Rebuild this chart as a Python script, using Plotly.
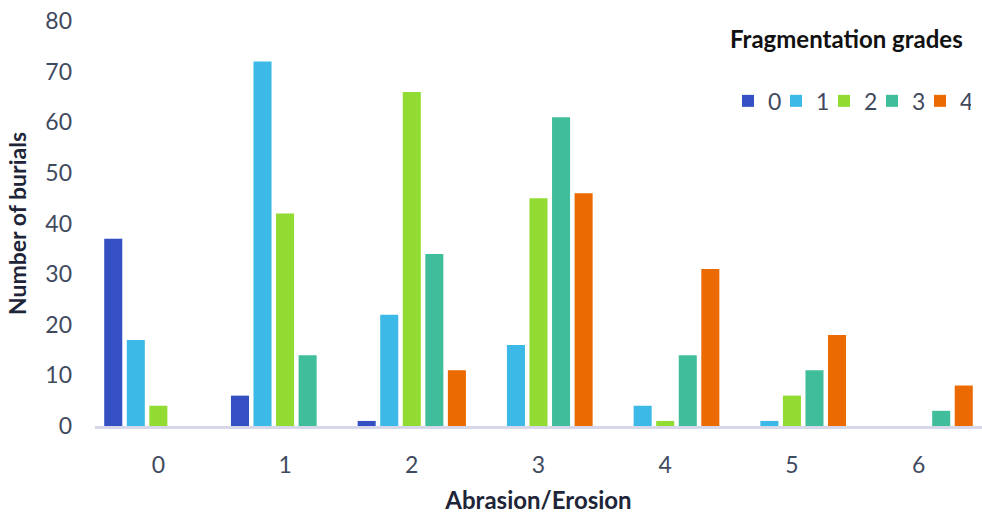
import plotly.graph_objects as go

categories = ["0", "1", "2", "3", "4", "5", "6"]
series_names = ["0", "1", "2", "3", "4"]
grade0 = [37, 6, 1, 0, 0, 0, 0]
grade1 = [17, 72, 22, 16, 4, 1, 0]
grade2 = [4, 42, 66, 45, 1, 6, 0]
grade3 = [0, 14, 34, 61, 14, 11, 3]
grade4 = [0, 0, 11, 46, 31, 18, 8]
series_values = [grade0, grade1, grade2, grade3, grade4]
colors = ["#3550C2", "#3CB9E6", "#92DB32", "#40BE9C", "#EC6A02"]

FONT = "Lato"
TICK_COLOR = "#3F4A5E"
TITLE_COLOR = "#1E2538"

W, H = 982, 515
ML, MR, MT, MB = 95, 0, 21, 89
plot_w = W - ML - MR
plot_h = H - MT - MB

fig = go.Figure()
for name, vals, col in zip(series_names, series_values, colors):
    fig.add_trace(go.Bar(
        x=categories, y=vals, name=name,
        marker=dict(color=col, line=dict(width=0)),
    ))

fig.update_layout(
    width=W, height=H,
    margin=dict(l=ML, r=MR, t=MT, b=MB, autoexpand=False),
    paper_bgcolor="white", plot_bgcolor="white",
    barmode="group", bargap=0.11, bargroupgap=0.2,
    font=dict(family=FONT, color=TICK_COLOR, size=23),
    showlegend=True,
    legend=dict(
        orientation="h", x=(728 - ML) / plot_w, xanchor="left",
        y=(H - MB - 17) / plot_h, yanchor="top",
        title=dict(
            text="<b>Fragmentation grades</b>&nbsp;<br>",
            side="top",
            font=dict(size=24, color="#111111", family=FONT),
        ),
        font=dict(size=23, color=TICK_COLOR, family=FONT),
        entrywidth=3, entrywidthmode="pixels",
        bgcolor="rgba(0,0,0,0)", itemclick=False, tracegroupgap=0,
    ),
    xaxis=dict(
        type="category", showgrid=False, zeroline=False,
        showline=True, linecolor="#D6D8EA", linewidth=3,
        ticks="", tickfont=dict(size=23, color=TICK_COLOR),
        ticklabelstandoff=16,
        title=dict(text="<b>Abrasion/Erosion</b>", font=dict(size=24, color=TITLE_COLOR), standoff=16),
    ),
    yaxis=dict(
        range=[0, 80], dtick=10, showgrid=False, zeroline=False,
        showline=False, ticks="", tickfont=dict(size=23, color=TICK_COLOR),
        ticklabelstandoff=22,
        title=dict(text="<b>Number of burials</b>", font=dict(size=23, color=TITLE_COLOR), standoff=12),
    ),
)

fig.write_html(
    "out.html",
    config={"displayModeBar": False},
    post_script="document.body.style.margin='0';document.body.style.overflow='hidden';",
)
